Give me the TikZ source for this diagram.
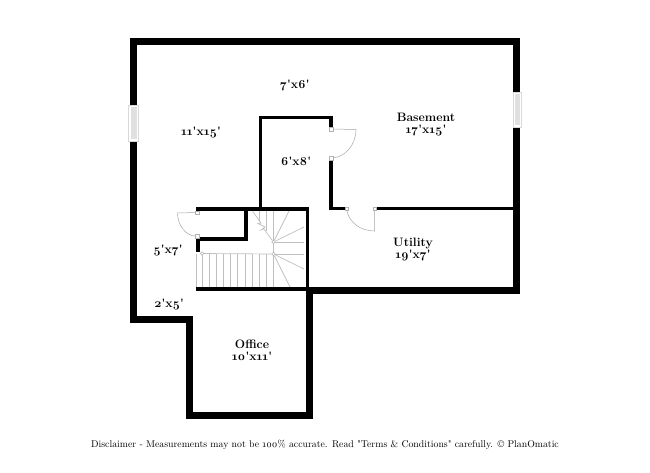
\documentclass[tikz,border=0pt]{standalone}
\usepackage{fontspec}
\setmainfont[Numbers=OldStyle,Ligatures=TeXOff]{Latin Modern Roman}
\tikzstyle{room}=[font=\fontsize{12.2}{12}\selectfont\bfseries, align=center, inner sep=0pt]
\tikzstyle{wall}=[draw=black, line width=7pt, line join=miter]
\tikzstyle{thinwall}=[draw=black, line width=3.6pt, line join=miter]
\tikzstyle{stairline}=[draw=black!25, line width=0.7pt]
\tikzstyle{doorline}=[draw=black!35, line width=0.5pt]
\tikzstyle{hinge}=[draw=black!30, fill=white, line width=0.4pt, minimum size=3.5pt, inner sep=0pt]
\tikzstyle{post}=[circle, draw=black!30, fill=white, line width=0.4pt, minimum size=3.5pt, inner sep=0pt]
\tikzstyle{window}=[draw=black!15, fill=white, line width=0.5pt]
\tikzstyle{glass}=[fill=black!12]
\begin{document}
\begin{tikzpicture}[x=1pt, y=-1pt]
        \useasboundingbox (0, 0) rectangle (650, 473);

        % outer walls
        \draw[wall] (133.5, 42) -- (516.5, 42) -- (516.5, 290.5) -- (309.5, 290.5)
            -- (309.5, 415.5) -- (189.5, 415.5) -- (189.5, 319) -- (133.5, 319) -- cycle;

        % windows
        \draw[window] (128.5, 105) rectangle (138, 141);
        \fill[glass] (130.5, 107) rectangle (136.5, 139);
        \draw[window] (513, 92) rectangle (521, 127);
        \fill[glass] (515, 94) rectangle (519.5, 125);

        % stair treads
        \begin{scope}[every path/.style={stairline}]
            \foreach \x in {196, 202, 209.2, 216.4, 223.3, 230.7, 237.7, 245, 252.3, 259.3, 266.7}
                \draw (\x, 253.5) -- (\x, 287);
            \draw (273.5, 211) -- (273.5, 287);
            \draw (259, 211) -- (259, 222);
            \draw (266.7, 211) -- (266.7, 231);
        \end{scope}

        \node[post](p1) at (273.5, 242) {};
        \node[post](p2) at (273.5, 254) {};
        \node[post](p3) at (202, 253.5) {};

        \coordinate (w1) at (289, 211);
        \coordinate (w2) at (304, 227);
        \coordinate (w3) at (304, 242);
        \coordinate (w4) at (304, 254);
        \coordinate (w5) at (304, 269);
        \coordinate (w6) at (290, 287);

        \begin{scope}[every path/.style={stairline}]
            \draw (p1) -- (w1);
            \draw (p1) -- (w2);
            \draw (p1) -- (w3);
            \draw (p2) -- (w4);
            \draw (p2) -- (w5);
            \draw (p2) -- (w6);
            \draw (p3) -- (p2);
            \draw (252.7, 211.5) -- (261, 223) -- (258, 223.5) -- (265, 227) -- (261, 230) -- (264, 229) -- (p1);
        \end{scope}

        % inner walls
        \draw[thinwall] (196, 208.7) -- (307.5, 208.7) -- (307.5, 289);
        \draw[thinwall] (196, 289) -- (307.5, 289);
        \draw[thinwall] (245.7, 208.7) -- (245.7, 239) -- (197.7, 239) -- (197.7, 252);
        \draw[thinwall] (260.5, 207) -- (260.5, 117.7) -- (331, 117.7) -- (331, 127);
        \draw[thinwall] (331, 160) -- (331, 208.5) -- (345, 208.5);
        \draw[thinwall] (376, 208.5) -- (514, 208.5);

        % doors
        \node[hinge](a1) at (197, 212.5) {};
        \node[hinge](a2) at (197, 236) {};
        \node[hinge](b1) at (331, 129) {};
        \node[hinge](b2) at (331, 158) {};
        \node[hinge](c1) at (346.5, 208.5) {};
        \node[hinge](c2) at (374.5, 208.5) {};

        \coordinate (a3) at (177.5, 213);
        \coordinate (b3) at (356, 129.5);
        \coordinate (c3) at (374.5, 231);

        \begin{scope}[every path/.style={doorline}]
            \draw (a1) -- (a3) .. controls (177.5, 226) and (187, 236) .. (a2);
            \draw (b1) -- (b3) .. controls (356, 145) and (345, 157) .. (b2);
            \draw (c2) -- (c3) .. controls (360, 231) and (349, 222) .. (c1);
        \end{scope}

        % labels
        \node[room](n1) at (295, 85) {7'x6'};
        \node[room](n2) at (426, 125) {Basement\\17'x15'};
        \node[room](n3) at (201, 132) {11'x15'};
        \node[room](n4) at (296, 161) {6'x8'};
        \node[room](n5) at (413, 250) {Utility\\19'x7'};
        \node[room](n6) at (168, 250) {5'x7'};
        \node[room](n7) at (169, 304) {2'x5'};
        \node[room](n8) at (252, 350) {Office\\10'x11'};

        \node[inner sep=0pt, font=\fontsize{9.8}{12}\selectfont](disclaimer) at (325, 445)
            {Disclaimer - Measurements may not be 100\% accurate. Read "Terms \& Conditions" carefully. © PlanOmatic};
    \end{tikzpicture}
\end{document}
